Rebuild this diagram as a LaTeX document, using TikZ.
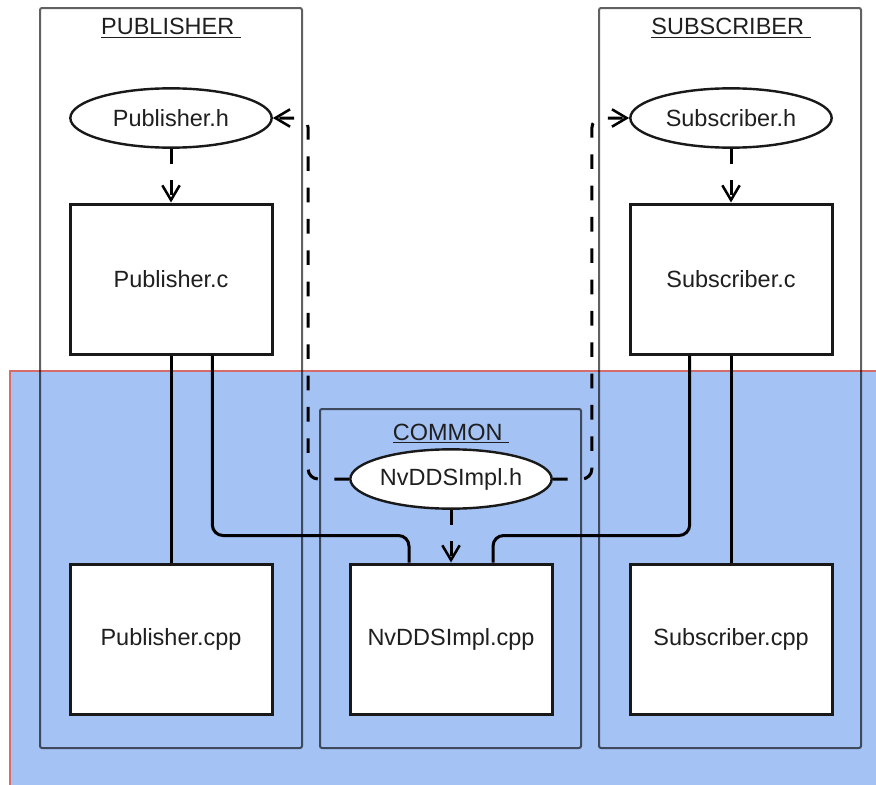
\documentclass[tikz,border=0pt]{standalone}
\usepackage{fontspec}
\setmainfont{Liberation Sans}
\usetikzlibrary{arrows.meta,shapes.geometric}
\definecolor{commonblue}{HTML}{A4C2F4}
\definecolor{commonred}{HTML}{D46C6C}
\newcommand{\grouptitle}[1]{\leavevmode\vtop{\hbox{#1\ }\kern1.2pt\hrule height 1.1pt}}
\begin{document}
\begin{tikzpicture}%
	[x=0.75pt, y=-0.75pt,
	every node/.style={font=\fontsize{17.6}{21}\selectfont, text=black!88},
	region/.style={fill=commonblue, draw=commonred, line width=0.9pt},
	group/.style={draw=black, draw opacity=0.62, line width=1.5pt, rounded corners=1.5pt},
	title/.style={anchor=base, inner sep=0pt},
	source/.style={rectangle, draw=black!90, fill=white, line width=2.25pt, minimum width=151.5pt, minimum height=112.5pt, inner sep=0pt},
	header/.style={ellipse, draw=black!90, fill=white, line width=1.8pt, minimum width=151pt, minimum height=44.5pt, inner sep=0pt},
	link/.style={draw=black, line width=2.25pt, rounded corners=8pt},
	include/.style={draw=black, line width=2.25pt, dash pattern=on 11pt off 12.5pt, rounded corners=7.5pt, -{Straight Barb[length=11pt, width=13pt, line width=1.9pt]}}]
	%
	%% page size
	\useasboundingbox (0,0) rectangle (876,785);
	%%
	%% common area
	\draw[region] (10,371) rectangle (890,800);
	%%
	%% groups
	\draw[group] (40,8) rectangle (302,748);
	\draw[group] (320,409) rectangle (581,748);
	\draw[group] (599,8) rectangle (861,748);
	\node[title] (pubtitle) at (171,35) {\grouptitle{PUBLISHER}};
	\node[title] (comtitle) at (451,440) {\grouptitle{COMMON}};
	\node[title] (subtitle) at (731,35) {\grouptitle{SUBSCRIBER}};
	%%
	%% files
	\node[header] (pubh) at (171,118) {Publisher.h};
	\node[source] (pubc) at (171,279) {Publisher.c};
	\node[source] (pubcpp) at (171,639) {Publisher.cpp};
	\node[header] (nvh) at (451,479) {NvDDSImpl.h};
	\node[source] (nvcpp) at (451,639) {NvDDSImpl.cpp};
	\node[header] (subh) at (731,118) {Subscriber.h};
	\node[source] (subc) at (731,279) {Subscriber.c};
	\node[source] (subcpp) at (731,639) {Subscriber.cpp};
	%%
	%% includes
	\draw[include] (pubh) -- (pubc);
	\draw[include] (subh) -- (subc);
	\draw[include] (nvh) -- (nvcpp);
	\draw[include] (nvh.west) -- ++(-41,0) |- (pubh.east);
	\draw[include] (nvh.east) -- ++(39,0) |- (subh.west);
	%%
	%% builds
	\draw[link] (pubc) -- (pubcpp);
	\draw[link] (subc) -- (subcpp);
	\draw[link] ([xshift=31pt]pubc.south) -- ++(0,180) -| ([xshift=-31.5pt]nvcpp.north);
	\draw[link] ([xshift=-31pt]subc.south) -- ++(0,180) -| ([xshift=31.5pt]nvcpp.north);
\end{tikzpicture}
\end{document}
